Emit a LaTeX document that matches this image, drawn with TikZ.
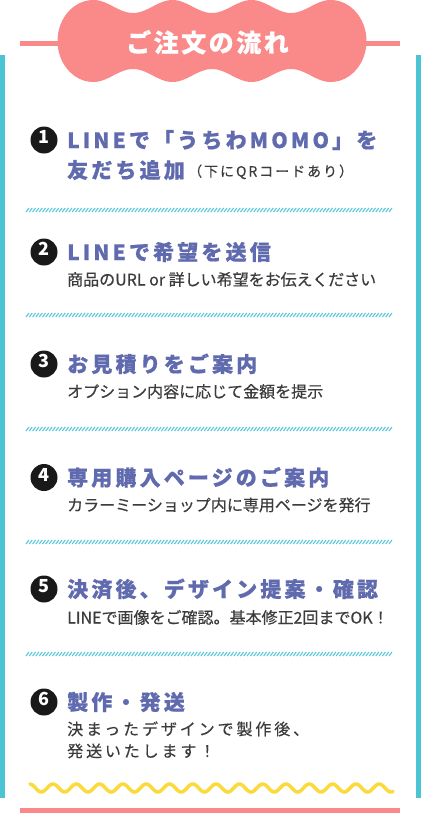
\documentclass[tikz,border=0pt]{standalone}
\usepackage{fontspec}
\newfontfamily\jpfont{Noto Sans CJK JP}
\newfontfamily\subfont[FakeBold=0.4]{Noto Sans CJK JP}
\newfontfamily\ttlfont[LetterSpace=15, BoldFeatures={FakeBold=0.6}]{Noto Sans CJK JP}
\newfontfamily\bannerfont[LetterSpace=10, BoldFeatures={FakeBold=0.6}]{Noto Sans CJK JP}
\newfontfamily\notefont[LetterSpace=14, FakeBold=0.3]{Noto Sans CJK JP}
\newfontfamily\widefont[LetterSpace=18, FakeBold=0.4]{Noto Sans CJK JP}

\definecolor{pinkc}{RGB}{250,137,137}
\definecolor{cyanc}{RGB}{76,196,212}
\definecolor{hatchc}{RGB}{90,200,218}
\definecolor{ttlblue}{RGB}{96,106,174}
\definecolor{subgray}{RGB}{60,60,60}
\definecolor{numblack}{RGB}{25,25,25}
\definecolor{wavey}{RGB}{250,218,60}

\tikzset{
  ttl/.style={anchor=base west, inner sep=0, text=ttlblue, font=\ttlfont\bfseries\fontsize{21}{21}\selectfont},
  sub/.style={anchor=base west, inner sep=0, text=subgray, font=\subfont\fontsize{16}{16}\selectfont},
  widesub/.style={sub, font=\widefont\fontsize{16}{16}\selectfont},
  note/.style={anchor=base west, inner sep=0, text=subgray, font=\notefont\fontsize{14}{14}\selectfont},
  num/.style={circle, fill=numblack, minimum size=27, inner sep=0, text=white,
    text height=0.72em, text depth=0pt, font=\jpfont\bfseries\fontsize{18}{18}\selectfont},
  hatchline/.style={draw=hatchc, line width=1.1},
}

\begin{document}
\begin{tikzpicture}[x=1pt, y=-1pt]
        \useasboundingbox (0,0) rectangle (421,814);
        \fill[white] (0,0) rectangle (421,814);

        % 枠
        \fill[cyanc] (0,55) rectangle (5,798);
        \fill[cyanc] (416,55) rectangle (421,798);
        \fill[pinkc] (20,808) rectangle (400,813);
        \draw[pinkc, line width=4.5] (20,43.5) -- (400,43.5);

        % 見出し
        \fill[pinkc] (93.5,0)
          -- plot[domain=93.5:330.5, samples=120] (\x,{6.5-6.5*cos((\x-93.5)*4.557)})
          -- plot[domain=-90:90, samples=40] ({330.5+36*cos(\x)},{41+41*sin(\x)})
          -- plot[domain=330.5:93.5, samples=120] (\x,{75.5+6.5*cos((\x-93.5)*4.557)})
          -- plot[domain=90:270, samples=40] ({93.5+36*cos(\x)},{41+41*sin(\x)}) -- cycle;
        \node[anchor=base west, inner sep=0, text=white, font=\bannerfont\bfseries\fontsize{25}{25}\selectfont]
          (head) at (126,52) {ご注文の流れ};

        % 番号
        \foreach \n/\y in {1/140, 2/252, 3/364, 4/477.5, 5/589, 6/702}
          \node[num] (num\n) at (44,\y) {\n};

        % 手順
        \node[ttl] (ttl1) at (67,148) {LINEで「うちわMOMO」を};
        \node[ttl] (ttl1b) at (67,178) {友だち追加};
        \node[note] (note1) at (188,176.5) {（下にQRコードあり）};

        \node[ttl] (ttl2) at (67,260) {LINEで希望を送信};
        \node[sub] (sub2) at (67,285.5) {商品のURL or 詳しい希望をお伝えください};

        \node[ttl] (ttl3) at (67,372) {お見積りをご案内};
        \node[sub] (sub3) at (67,397.5) {オプション内容に応じて金額を提示};

        \node[ttl] (ttl4) at (67,485.5) {専用購入ページのご案内};
        \node[sub] (sub4) at (67,511) {カラーミーショップ内に専用ページを発行};

        \node[ttl] (ttl5) at (67,597) {決済後、デザイン提案・確認};
        \node[sub] (sub5) at (67,623.5) {LINEで画像をご確認。基本修正2回までOK！};

        \node[ttl] (ttl6) at (67,710) {製作・発送};
        \node[widesub] (sub6) at (67,735) {決まったデザインで製作後、};
        \node[widesub] (sub6b) at (67,757) {発送いたします！};

        % 区切り線
        \foreach \y in {210, 315, 429, 542, 654}
          \foreach \x in {26,29.3,...,392}
            \draw[hatchline] (\x,\y+2) -- (\x+3,\y-2);

        % 波線
        \draw[wavey, line width=3.5, line cap=round]
          plot[domain=30:393, samples=300, smooth] (\x,{788-4*cos((\x-53)*15.45)});
\end{tikzpicture}
\end{document}
